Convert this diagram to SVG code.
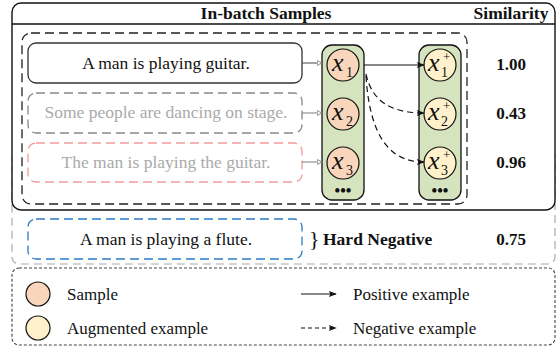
<svg xmlns="http://www.w3.org/2000/svg" width="557" height="349" viewBox="0 0 557 349">
<defs>
<style>
text{font-family:"Liberation Serif","Times New Roman",serif;fill:#111}
.b{font-weight:bold;font-size:17.5px}
.s{font-size:17.5px;text-anchor:middle}
.g{fill:#aaa}
.v{font-weight:bold;font-size:17px;text-anchor:middle}
.col{fill:#d5e3bf;stroke:#111;stroke-width:1.3}
.smp{fill:#f8d5bb;stroke:#111;stroke-width:1.2}
.aug{fill:#fff1cb;stroke:#111;stroke-width:1.2}
.xv{font-style:italic;font-size:26px}
.sub{font-size:14px}
.sup{font-size:13px}
.dots{font-size:16px;font-weight:bold;text-anchor:middle}
</style>
<marker id="open" viewBox="0 0 10 10" refX="9" refY="5" markerWidth="6" markerHeight="6" orient="auto" markerUnits="userSpaceOnUse">
<path d="M1,1 L9,5 L1,9 Z" fill="#fff" stroke="#777" stroke-width="1.4"/>
</marker>
<marker id="fill" viewBox="0 0 10 10" refX="9" refY="5" markerWidth="8" markerHeight="8" orient="auto" markerUnits="userSpaceOnUse">
<path d="M0,1 L10,5 L0,9 L2,5 Z" fill="#111"/>
</marker>
</defs>

<!-- outer gray dashed container (behind) -->
<rect x="12" y="150" width="543" height="114" rx="7" fill="none" stroke="#aaa" stroke-width="1.2" stroke-dasharray="8 5"/>

<!-- main batch panel -->
<g id="batch-panel">
<rect x="12" y="3" width="543" height="207" rx="9" fill="#fff" stroke="#111" stroke-width="1.4"/>
<line x1="12" y1="24" x2="555" y2="24" stroke="#111" stroke-width="1.4"/>
<text class="b" x="266" y="19" text-anchor="middle">In-batch Samples</text>
<text class="b" x="511" y="19" text-anchor="middle">Similarity</text>
<rect x="22" y="33" width="445" height="171" rx="9" fill="none" stroke="#222" stroke-width="1.3" stroke-dasharray="9 5"/>
</g>

<g id="sentence1">
<rect x="28" y="43" width="274" height="40" rx="8" fill="#fff" stroke="#333" stroke-width="1.3"/>
<text class="s" x="166" y="69">A man is playing guitar.</text>
</g>
<g id="sentence2">
<rect x="28" y="93" width="274" height="40" rx="8" fill="#fff" stroke="#888" stroke-width="1.3" stroke-dasharray="9 5"/>
<text class="s g" x="166" y="118">Some people are dancing on stage.</text>
</g>
<g id="sentence3">
<rect x="28" y="143" width="274" height="39" rx="8" fill="#fff" stroke="#f29a9a" stroke-width="1.3" stroke-dasharray="9 5"/>
<text class="s g" x="166" y="168">The man is playing the guitar.</text>
</g>

<g id="sample-column">
<rect class="col" x="322" y="45" width="42" height="155" rx="10"/>
<circle class="smp" cx="343" cy="65" r="16"/>
<circle class="smp" cx="343" cy="114" r="16"/>
<circle class="smp" cx="343" cy="163" r="16"/>
<text class="xv" x="332" y="71">x</text><text class="sub" x="346" y="77">1</text>
<text class="xv" x="332" y="120">x</text><text class="sub" x="346" y="126">2</text>
<text class="xv" x="332" y="169">x</text><text class="sub" x="346" y="175">3</text>
<text class="dots" x="343" y="196">•••</text>
</g>

<g id="augmented-column">
<rect class="col" x="419" y="45" width="42" height="155" rx="10"/>
<circle class="aug" cx="440" cy="65" r="16"/>
<circle class="aug" cx="440" cy="114" r="16"/>
<circle class="aug" cx="440" cy="163" r="16"/>
<text class="xv" x="428" y="71">x</text><text class="sup" x="443" y="61">+</text><text class="sub" x="441" y="77">1</text>
<text class="xv" x="428" y="120">x</text><text class="sup" x="443" y="110">+</text><text class="sub" x="441" y="126">2</text>
<text class="xv" x="428" y="169">x</text><text class="sup" x="443" y="159">+</text><text class="sub" x="441" y="175">3</text>
<text class="dots" x="440" y="196">•••</text>
</g>

<g id="similarities">
<text class="v" x="511" y="70">1.00</text>
<text class="v" x="511" y="119">0.43</text>
<text class="v" x="511" y="168">0.96</text>
</g>

<g id="hard-negative">
<rect x="28" y="219" width="274" height="40" rx="8" fill="#fff" stroke="#2a7cc7" stroke-width="1.3" stroke-dasharray="9 5"/>
<text class="s" x="166" y="245">A man is playing a flute.</text>
<text x="309" y="246" font-size="22" fill="#111">}</text>
<text class="b" x="323" y="245">Hard Negative</text>
<text class="v" x="511" y="245">0.75</text>
</g>

<g id="connectors" fill="none">
<line x1="302" y1="63" x2="322" y2="63" stroke="#555" stroke-width="1.1" marker-end="url(#open)"/>
<line x1="302" y1="113" x2="322" y2="113" stroke="#888" stroke-width="1.1" marker-end="url(#open)"/>
<line x1="302" y1="162" x2="322" y2="162" stroke="#888" stroke-width="1.1" marker-end="url(#open)"/>
<line x1="364" y1="65" x2="424" y2="65" stroke="#111" stroke-width="1.2" marker-end="url(#fill)"/>
<path d="M366,74 C372,102 392,113 424,113" stroke="#111" stroke-width="1.2" stroke-dasharray="6 4" marker-end="url(#fill)"/>
<path d="M366,76 C370,140 392,162 424,162" stroke="#111" stroke-width="1.2" stroke-dasharray="6 4" marker-end="url(#fill)"/>
</g>

<g id="legend">
<rect x="12" y="268" width="543" height="77" rx="7" fill="none" stroke="#444" stroke-width="1.1" stroke-dasharray="3 2"/>
<circle class="smp" cx="38" cy="294" r="12"/>
<text x="67" y="300" font-size="17">Sample</text>
<circle class="aug" cx="38" cy="328" r="12"/>
<text x="67" y="334" font-size="17">Augmented example</text>
<line x1="301" y1="294" x2="336" y2="294" stroke="#111" stroke-width="1.2" marker-end="url(#fill)"/>
<text x="353" y="300" font-size="17">Positive example</text>
<line x1="301" y1="328" x2="336" y2="328" stroke="#111" stroke-width="1.2" stroke-dasharray="4 3" marker-end="url(#fill)"/>
<text x="353" y="334" font-size="17">Negative example</text>
</g>
</svg>
